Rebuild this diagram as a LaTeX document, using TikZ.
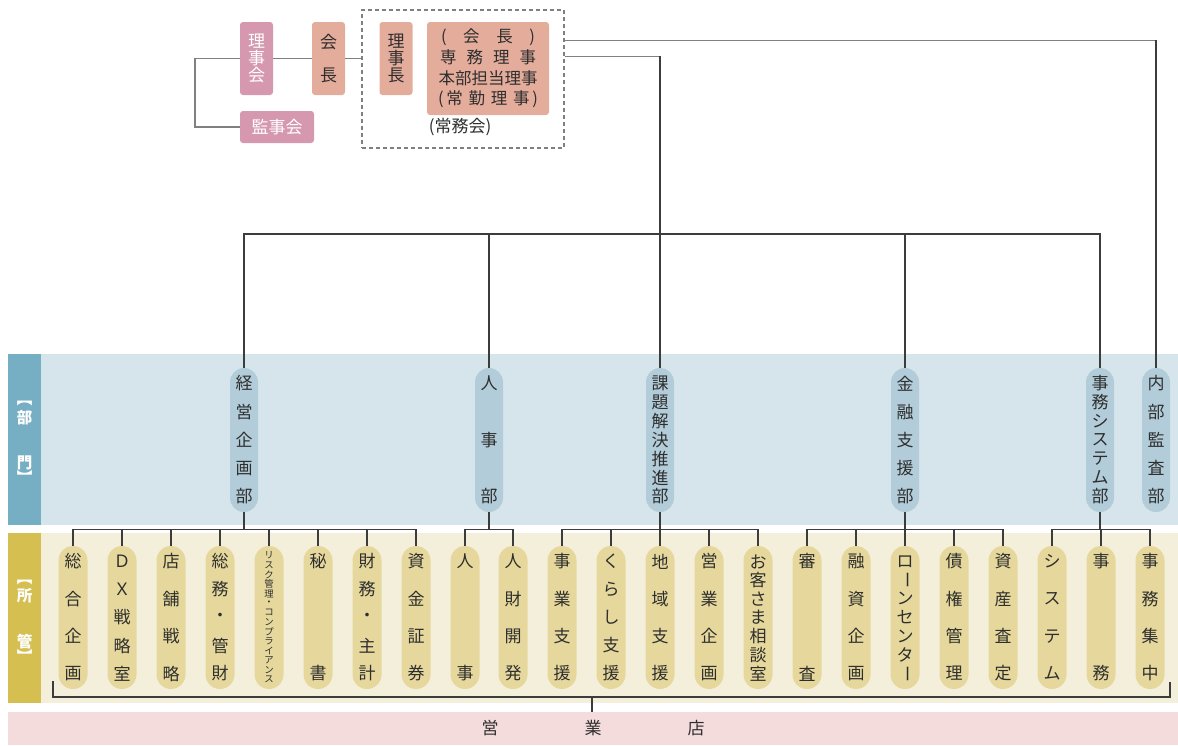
\documentclass[tikz,border=0pt]{standalone}
\usepackage{fontspec}
\newfontfamily\jpfont{Noto Sans CJK JP}
\usetikzlibrary{calc}

\definecolor{txt}{HTML}{2E2E2E}
\definecolor{tabblue}{HTML}{76AEC3}
\definecolor{bandblue}{HTML}{D6E4EB}
\definecolor{deptblue}{HTML}{B2CDD9}
\definecolor{tabgold}{HTML}{D5BF50}
\definecolor{bandcream}{HTML}{F4EFDA}
\definecolor{subgold}{HTML}{E6D89C}
\definecolor{bandpink}{HTML}{F4DCDC}
\definecolor{mauve}{HTML}{D598AF}
\definecolor{salmon}{HTML}{E4AC9B}
\definecolor{linegray}{HTML}{808080}
\definecolor{linedark}{HTML}{3C3C3C}

\tikzset{
  jp/.style={font=\jpfont\fontsize{17}{17}\selectfont},
  chr/.style={jp, inner sep=0pt, text=txt},
  tinychr/.style={inner sep=0pt, text=txt, font=\jpfont\fontsize{9.4}{9.4}\selectfont},
  tabchr/.style={inner sep=0pt, text=white, font=\jpfont\bfseries\fontsize{15.5}{15.5}\selectfont},
  topbox/.style={jp, rounded corners=3pt, inner sep=0pt, align=center, text=txt, fill=salmon},
  deptpill/.style={fill=deptblue, rounded corners=14pt, minimum width=28pt, minimum height=144pt, inner sep=0pt},
  subpill/.style={fill=subgold, rounded corners=14.5pt, minimum width=29pt, minimum height=143pt, inner sep=0pt},
  conn/.style={draw=linedark, line width=1.2pt},
  topconn/.style={draw=linegray, line width=1.4pt},
}

% #1 name, #2 centre, #3 pill style, #4 char style, #5 half span, #6 characters
\newcommand\pill[6]{%
  \node[#3] (#1) at (#2) {};
  \foreach \c [count=\i] in {#6} {\xdef\nchar{\i}}
  \foreach \c [count=\i] in {#6} {
    \pgfmathsetmacro\dy{-#5+(\i-1)*2*#5/(\nchar-1)}
    \node[#4] at ($(#1)+(0,\dy)$) {\c};
  }
}
\newcommand\vbar{\rotatebox[origin=c]{-90}{ー}}

\begin{document}
\begin{tikzpicture}[x=1pt,y=-1pt]
\useasboundingbox (0,0) rectangle (1178,745);

% bands
\fill[tabblue] (8,354) rectangle (41,525);
\fill[bandblue] (41,354) rectangle (1178,525);
\fill[tabgold] (8,533) rectangle (41,703);
\fill[bandcream] (41,533) rectangle (1178,703);
\node[tabchr] (brA) at (24.5,404) {︻};
\node[tabchr] (bu) at (24.5,418) {部};
\node[tabchr] (mon) at (24.5,463) {門};
\node[tabchr] (brB) at (24.5,477) {︼};
\node[tabchr] (brC) at (24.5,582) {︻};
\node[tabchr] (sho) at (24.5,596) {所};
\node[tabchr] (kan) at (24.5,642) {管};
\node[tabchr] (brD) at (24.5,656) {︼};
\node[jp, text=txt, fill=bandpink, inner sep=0pt, minimum width=1170pt, minimum height=33pt] (shop) at (593,728.5)
  {営\hspace{86pt}業\hspace{86pt}店};

% top
\node[topbox, fill=mauve, text=white, minimum width=33pt, minimum height=73pt] (rijikai) at (256.5,58.5) {理\\事\\会};
\node[topbox, fill=mauve, text=white, minimum width=74pt, minimum height=32pt] (kanjikai) at (277,127) {監事会};
\node[topbox, minimum width=33pt, minimum height=73pt] (kaicho) at (328.5,58.5) {会\\[16pt]長};
\node[draw=linegray, line width=1.2pt, dash pattern=on 4pt off 3pt, minimum width=202pt, minimum height=138pt] (jomu) at (463,79) {};
\node[topbox, minimum width=33pt, minimum height=73pt] (richo) at (396,58.5) {理\\事\\長};
\node[topbox, minimum width=122pt, minimum height=93pt, font=\jpfont\fontsize{16.5}{20.7}\selectfont] (kanbu) at (488,68.5)
  {\makebox[94pt]{(\hfill 会\hfill 長\hfill )}\\ \makebox[96pt]{専\hfill 務\hfill 理\hfill 事}\\ 本部担当理事\\ \makebox[100pt]{(\,常\hfill 勤\hfill 理\hfill 事\,)}};
\node[chr] (jomukai) at (460,127) {(常務会)};

\draw[topconn] (rijikai) -- (kaicho);
\draw[topconn] (rijikai.west) -- ++(-45,0) |- (kanjikai.west);
\draw[topconn] (kaicho.east) -- (kaicho.east -| jomu.west);

% departments
\pill{keiei}{244,440}{deptpill}{chr}{56.5}{経,営,企,画,部}
\pill{jinji}{489,440}{deptpill}{chr}{56.5}{人,事,部}
\pill{kadai}{660,440}{deptpill}{chr}{56.5}{課,題,解,決,推,進,部}
\pill{kinyu}{905,440}{deptpill}{chr}{56.5}{金,融,支,援,部}
\pill{jimu}{1100,440}{deptpill}{chr}{56.5}{事,務,シ,ス,テ,ム,部}
\pill{naibu}{1156,440}{deptpill}{chr}{56.5}{内,部,監,査,部}

\path (jomu.north east) ++(0,31) coordinate (j1) ++(0,16) coordinate (j2);
\coordinate (bus) at (0,234);
\draw[topconn] (j1) -- (j1 -| naibu);
\draw[conn] (j1 -| naibu) -- (naibu.north);
\draw[topconn] (j2) -- (j2 -| kadai);
\draw[conn] (j2 -| kadai) -- (kadai.north);
\draw[conn] (keiei.north) -- (keiei |- bus) -- (jimu |- bus) -- (jimu.north);
\foreach \d in {jinji,kinyu} \draw[conn] (\d |- bus) -- (\d.north);

% sections
\pill{sogo}{73,617.5}{subpill}{chr}{56}{総,合,企,画}
\pill{dx}{122,617.5}{subpill}{chr}{56}{Ｄ,Ｘ,戦,略,室}
\pill{tenpo}{171,617.5}{subpill}{chr}{56}{店,舗,戦,略}
\pill{somu}{220,617.5}{subpill}{chr}{56}{総,務,・,管,財}
\pill{risk}{269,617.5}{subpill}{tinychr}{62}{リ,ス,ク,管,理,・,コ,ン,プ,ラ,イ,ア,ン,ス}
\pill{hisho}{318,617.5}{subpill}{chr}{56}{秘,書}
\pill{zaimu}{367,617.5}{subpill}{chr}{56}{財,務,・,主,計}
\pill{shikin}{416,617.5}{subpill}{chr}{56}{資,金,証,券}
\pill{jinjika}{465,617.5}{subpill}{chr}{56}{人,事}
\pill{jinzai}{513,617.5}{subpill}{chr}{56}{人,財,開,発}
\pill{jigyo}{562,617.5}{subpill}{chr}{56}{事,業,支,援}
\pill{kurashi}{611,617.5}{subpill}{chr}{56}{く,ら,し,支,援}
\pill{chiiki}{660,617.5}{subpill}{chr}{56}{地,域,支,援}
\pill{eigyo}{709,617.5}{subpill}{chr}{56}{営,業,企,画}
\pill{sodan}{758,617.5}{subpill}{chr}{56}{お,客,さ,ま,相,談,室}
\pill{shinsa}{807,617.5}{subpill}{chr}{56}{審,査}
\pill{yushi}{856,617.5}{subpill}{chr}{56}{融,資,企,画}
\pill{loan}{905,617.5}{subpill}{chr}{56}{ロ,\vbar,ン,セ,ン,タ,\vbar}
\pill{saiken}{954,617.5}{subpill}{chr}{56}{債,権,管,理}
\pill{shisan}{1003,617.5}{subpill}{chr}{56}{資,産,査,定}
\pill{system}{1052,617.5}{subpill}{chr}{56}{シ,ス,テ,ム}
\pill{jimuka}{1101,617.5}{subpill}{chr}{56}{事,務}
\pill{shuchu}{1150,617.5}{subpill}{chr}{56}{事,務,集,中}

\foreach \s in {sogo,dx,tenpo,somu,risk,hisho,zaimu,shikin} \draw[conn] (keiei.south) -- ++(0,17) -| (\s.north);
\foreach \s in {jinjika,jinzai} \draw[conn] (jinji.south) -- ++(0,17) -| (\s.north);
\foreach \s in {jigyo,kurashi,chiiki,eigyo,sodan} \draw[conn] (kadai.south) -- ++(0,17) -| (\s.north);
\foreach \s in {shinsa,yushi,loan,saiken,shisan} \draw[conn] (kinyu.south) -- ++(0,17) -| (\s.north);
\foreach \s in {system,jimuka,shuchu} \draw[conn] (jimu.south) -- ++(0,17) -| (\s.north);

% bracket to branches
\coordinate (bl) at (53,681);
\coordinate (br) at (1170,682);
\coordinate (tie) at (592,697);
\draw[conn] (bl) |- (br |- tie) -- (br);
\draw[conn] (tie) -- (tie |- shop.north);
\end{tikzpicture}
\end{document}
